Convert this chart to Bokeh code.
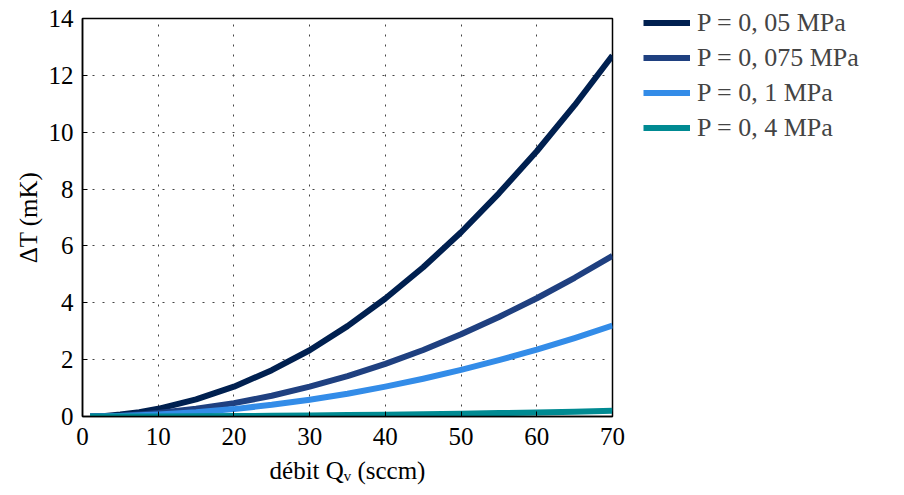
from bokeh.plotting import figure
from bokeh.models import Legend, LegendItem, FixedTicker, Range1d
from bokeh.layouts import row, column
from bokeh.embed import file_html
from bokeh.resources import INLINE

# data
flow = [1, 3, 5, 7.5, 10, 15, 20, 25, 30, 35, 40, 45, 50, 55, 60, 65, 70]
dt_005 = [0.0, 0.02, 0.07, 0.15, 0.27, 0.6, 1.05, 1.63, 2.33, 3.18, 4.15, 5.25, 6.48, 7.85, 9.33, 10.95, 12.7]
dt_0075 = [0.0, 0.01, 0.03, 0.07, 0.12, 0.27, 0.47, 0.73, 1.05, 1.42, 1.85, 2.34, 2.89, 3.5, 4.16, 4.88, 5.65]
dt_01 = [0.0, 0.005, 0.02, 0.04, 0.07, 0.15, 0.26, 0.41, 0.59, 0.8, 1.05, 1.33, 1.64, 1.98, 2.35, 2.76, 3.2]
dt_04 = [0.0, 0.0, 0.001, 0.002, 0.004, 0.009, 0.016, 0.026, 0.037, 0.05, 0.065, 0.082, 0.1, 0.12, 0.145, 0.17, 0.2]
labels = ["P = 0, 05 MPa", "P = 0, 075 MPa", "P = 0, 1 MPa", "P = 0, 4 MPa"]
colors = ["#002050", "#1f4080", "#338ce8", "#008a92"]
x_ticks = [0, 10, 20, 30, 40, 50, 60, 70]
y_ticks = [0, 2, 4, 6, 8, 10, 12, 14]

FONT = "Liberation Serif"

p = figure(width=636, height=495, output_backend="svg", toolbar_location=None,
           x_range=Range1d(0, 70), y_range=Range1d(0, 14),
           min_border_left=82, min_border_right=24, min_border_top=18, min_border_bottom=79)
p.background_fill_color = "white"
p.border_fill_color = "white"
p.outline_line_color = "black"
p.outline_line_width = 1.5

for ax in (p.xaxis[0], p.yaxis[0]):
    ax.major_tick_in = 5
    ax.major_tick_out = 0
    ax.minor_tick_line_color = None
    ax.axis_line_color = "black"
    ax.axis_line_width = 1.5
    ax.major_tick_line_color = "black"
    ax.major_label_text_font = FONT
    ax.major_label_text_font_size = "25px"
    ax.major_label_text_color = "black"
    ax.axis_label_text_font = FONT
    ax.axis_label_text_font_size = "25px"
    ax.axis_label_text_font_style = "normal"
    ax.axis_label_text_color = "black"

p.xaxis[0].ticker = FixedTicker(ticks=x_ticks)
p.yaxis[0].ticker = FixedTicker(ticks=y_ticks)
p.xaxis[0].axis_label = "débit Qᵥ (sccm)"
p.yaxis[0].axis_label = "ΔT (mK)"
p.xaxis[0].major_label_standoff = 11
p.yaxis[0].major_label_standoff = 9
p.xaxis[0].axis_label_standoff = 9
p.yaxis[0].axis_label_standoff = 4

p.xgrid.ticker = FixedTicker(ticks=x_ticks)
p.ygrid.ticker = FixedTicker(ticks=y_ticks)
for g in (p.xgrid[0], p.ygrid[0]):
    g.grid_line_color = "#444444"
    g.grid_line_dash = "2 8"
    g.grid_line_width = 1

series = [dt_005, dt_0075, dt_01, dt_04]
for ys, c in zip(series, colors):
    p.line(flow, ys, line_color=c, line_width=6, line_join="round")

# legend panel (separate figure so the legend sits outside the axes box)
q = figure(width=268, height=495, output_backend="svg", toolbar_location=None,
           x_range=Range1d(-200, -199), y_range=Range1d(-200, -199),
           min_border=0, x_axis_location=None, y_axis_location=None)
q.grid.visible = False
q.outline_line_color = None
q.background_fill_color = "white"
q.border_fill_color = "white"
items = []
for ys, c, lab in zip(series, colors, labels):
    r = q.line(flow, ys, line_color=c, line_width=6)
    items.append(LegendItem(label=lab, renderers=[r]))

legend = Legend(items=items, location=(7, 350), padding=0, spacing=0,
                glyph_width=47, glyph_height=35, label_height=35, label_standoff=7,
                label_text_font=FONT, label_text_font_size="26px",
                border_line_color=None, background_fill_alpha=0, margin=0)
q.add_layout(legend, "center")

layout = row(p, column(q), spacing=0)
open("out.html", "w").write(file_html(layout, INLINE))
